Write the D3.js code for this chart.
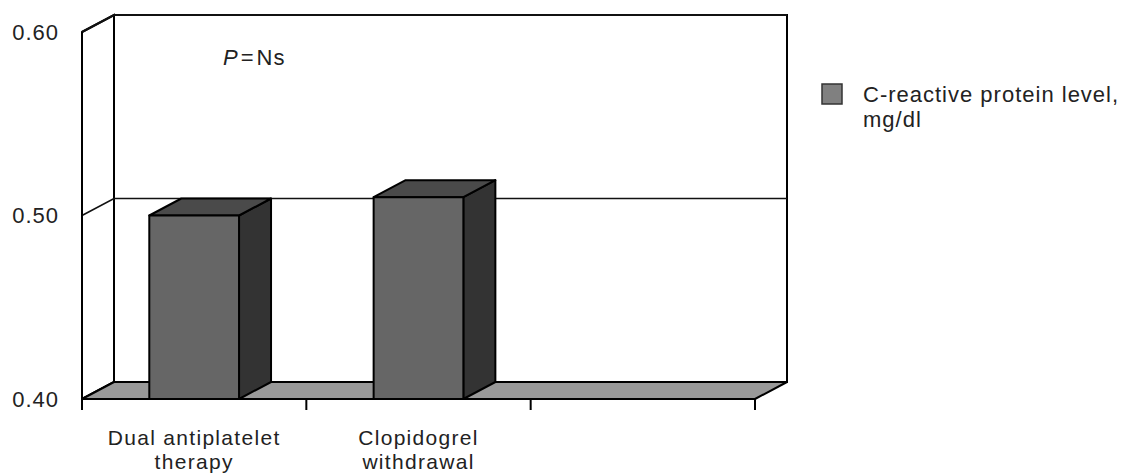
<!DOCTYPE html>
<html>
<head>
<meta charset="utf-8">
<script src="https://cdn.jsdelivr.net/npm/d3@7/dist/d3.min.js"></script>
<style>
  html, body { margin: 0; padding: 0; background: #fff; }
  svg { display: block; }
  text { font-family: "Liberation Sans", Arial, Helvetica, sans-serif; fill: #222; letter-spacing: 1px; }
</style>
</head>
<body>
<svg id="chart" width="1122" height="473"></svg>
<script>
// Categories, series values and axis ticks
const categories = ["Dual antiplatelet therapy", "Clopidogrel withdrawal", ""];
const categoryLines = [["Dual antiplatelet", "therapy"], ["Clopidogrel", "withdrawal"], []];
const crpValues = [0.50, 0.51, null];
const seriesName = ["C-reactive protein level,", "mg/dl"];
const yTicks = [0.40, 0.50, 0.60];
const annotation = "Ns";

const svg = d3.select("#chart");

// Front plane of the 3-D box and the depth offset to the back wall
const x0 = 82, x1 = 755, yBottom = 399, yTop = 32;
const DX = 32, DY = -17;

const y = d3.scaleLinear().domain([0.40, 0.60]).range([yBottom, yTop]);
const slot = d3.scaleBand().domain(categories).range([x0, x1]).padding(0);
const x = d3.scaleBand().domain(categories).range([x0, x1])
  .paddingInner(0.6).paddingOuter(0.3);

const poly = pts => "M" + pts.map(p => p.join(",")).join("L") + "Z";
const line = pts => "M" + pts.map(p => p.join(",")).join("L");

// Back wall
svg.append("path")
  .attr("d", poly([[x0 + DX, y(0.60) + DY], [x1 + DX, y(0.60) + DY], [x1 + DX, y(0.40) + DY], [x0 + DX, y(0.40) + DY]]))
  .attr("fill", "#fff").attr("stroke", "#000").attr("stroke-width", 2);

// Left side wall
svg.append("path")
  .attr("d", poly([[x0, y(0.60)], [x0 + DX, y(0.60) + DY], [x0 + DX, y(0.40) + DY], [x0, y(0.40)]]))
  .attr("fill", "#fff").attr("stroke", "#000").attr("stroke-width", 2);

// Gridlines across the side wall and the back wall
const grid = svg.append("g");
yTicks.forEach(t => {
  grid.append("path")
    .attr("d", line([[x0, y(t)], [x0 + DX, y(t) + DY], [x1 + DX, y(t) + DY]]))
    .attr("fill", "none").attr("stroke", "#111")
    .attr("stroke-width", t === 0.60 ? 2 : 1.6);
});

// Floor
svg.append("path")
  .attr("d", poly([[x0, y(0.40)], [x1, y(0.40)], [x1 + DX, y(0.40) + DY], [x0 + DX, y(0.40) + DY]]))
  .attr("fill", "#999").attr("stroke", "#000").attr("stroke-width", 2).attr("stroke-linejoin", "round");

// 3-D columns
const bars = svg.append("g");
categories.forEach((c, i) => {
  const v = crpValues[i];
  if (v == null) return;
  const bx = x(c), bw = x.bandwidth();
  const yt = y(v), yb = y(0.40);
  const g = bars.append("g").attr("stroke", "#000").attr("stroke-width", 2).attr("stroke-linejoin", "round");
  // right side
  g.append("path").attr("fill", "#333")
    .attr("d", poly([[bx + bw, yt], [bx + bw + DX, yt + DY], [bx + bw + DX, yb + DY], [bx + bw, yb]]));
  // top
  g.append("path").attr("fill", "#4a4a4a")
    .attr("d", poly([[bx, yt], [bx + DX, yt + DY], [bx + bw + DX, yt + DY], [bx + bw, yt]]));
  // front
  g.append("path").attr("fill", "#666")
    .attr("d", poly([[bx, yt], [bx + bw, yt], [bx + bw, yb], [bx, yb]]));
});

// Front edges: value axis and category axis
svg.append("path").attr("d", line([[x0, y(0.60)], [x0, y(0.40)], [x1, y(0.40)]]))
  .attr("fill", "none").attr("stroke", "#000").attr("stroke-width", 2);

// Category ticks at slot boundaries
const tickXs = categories.map(c => slot(c)).concat([x1]);
svg.append("g").selectAll("line").data(tickXs).join("line")
  .attr("x1", d => d).attr("x2", d => d)
  .attr("y1", y(0.40)).attr("y2", y(0.40) + 11)
  .attr("stroke", "#000").attr("stroke-width", 2);

// Value tick labels
svg.append("g").selectAll("text").data(yTicks).join("text")
  .attr("x", 59).attr("y", d => y(d))
  .attr("dy", "0.36em")
  .attr("text-anchor", "end")
  .style("font-size", "22px")
  .text(d => d3.format(".2f")(d));

// Category labels, one text per line
const catG = svg.append("g");
categories.forEach((c, i) => {
  const cx = slot(c) + slot.bandwidth() / 2;
  categoryLines[i].forEach((ln, j) => {
    catG.append("text").attr("text-anchor", "middle")
      .style("font-size", "21px").style("letter-spacing", "1.3px")
      .attr("x", cx).attr("y", 445 + j * 23.5).text(ln);
  });
});

// Significance note
const note = svg.append("text").attr("x", 223).attr("y", 65).style("font-size", "22px");
note.append("tspan").style("font-style", "italic").text("P");
note.append("tspan").attr("dx", 2).text("=");
note.append("tspan").attr("dx", 2).text(annotation);

// Legend
svg.append("rect").attr("x", 822).attr("y", 84).attr("width", 20).attr("height", 20)
  .attr("fill", "#808080").attr("stroke", "#333").attr("stroke-width", 1.5);
const legendText = svg.append("g").style("font-size", "22px");
seriesName.forEach((ln, j) => {
  legendText.append("text").attr("x", 863).attr("y", 102 + j * 25).text(ln);
});
</script>
</body>
</html>
